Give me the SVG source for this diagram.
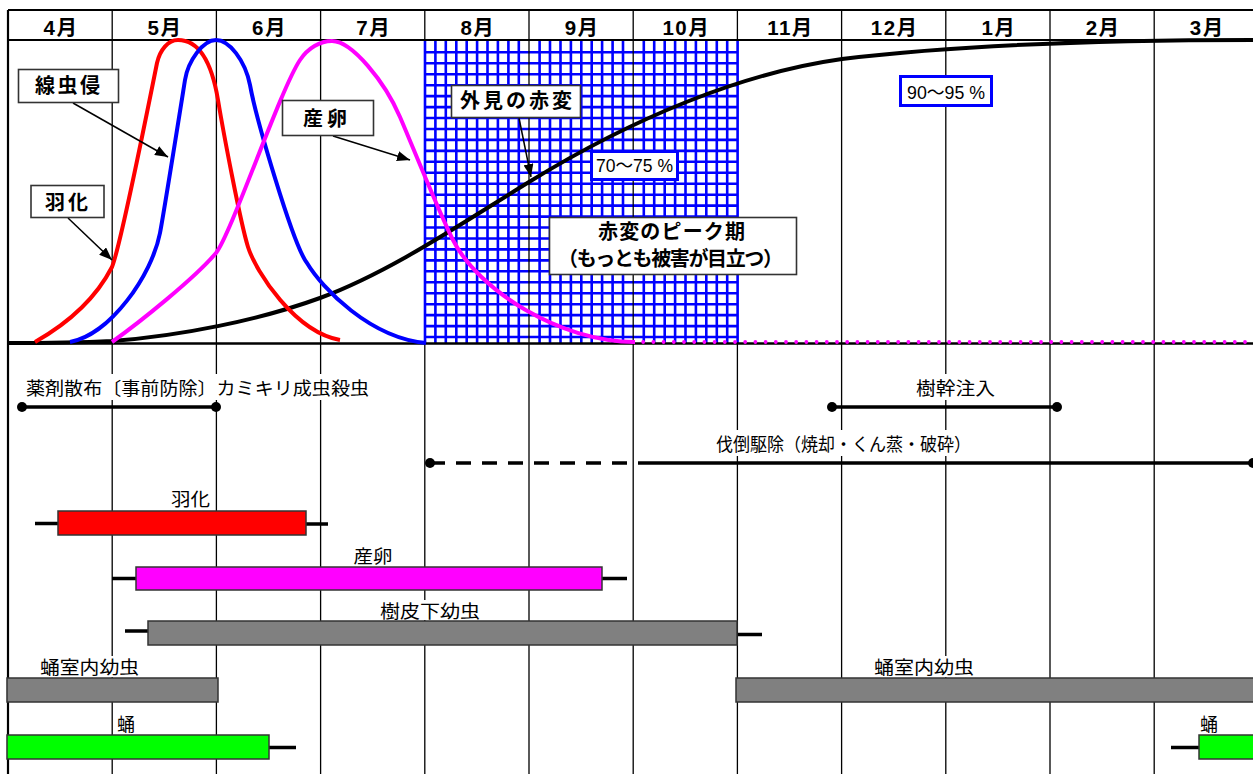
<svg xmlns="http://www.w3.org/2000/svg" width="1253" height="774" viewBox="0 0 1253 774">
<style>
.mline{stroke:#000;stroke-width:1.3;fill:none}
.frame{stroke:#000;stroke-width:2.2;fill:none}
.grid{stroke:#0000ff;stroke-width:2.6;fill:none}
.crv{fill:none;stroke-width:4;stroke-linecap:butt;stroke-linejoin:round}
.hdr{font-family:"Liberation Sans","Noto Sans CJK JP",sans-serif;font-weight:bold;font-size:20.5px;letter-spacing:1.5px;text-anchor:middle;fill:#000}
.cbox{fill:#fff;stroke:#333;stroke-width:1.6}
.pbox{fill:#fff;stroke:#0000ff;stroke-width:3}
.ctxt{font-family:"Noto Sans CJK JP",sans-serif;font-weight:bold;font-size:20px;fill:#000}
.ptxt{font-family:"Liberation Sans","Noto Sans CJK JP",sans-serif;font-size:18px;fill:#000}
.ltxt{font-family:"Noto Sans CJK JP",sans-serif;font-size:18px;fill:#000}
.bg{fill:#fff}
.arr{stroke:#000;stroke-width:1.5;fill:none;marker-end:url(#ah)}
.tl{stroke:#000;stroke-width:3.5;fill:none}
.bar{stroke:#333;stroke-width:1.5}
.wh{stroke:#000;stroke-width:3.5}
</style>
<defs>
<marker id="ah" markerUnits="userSpaceOnUse" markerWidth="14" markerHeight="10" refX="13" refY="5" orient="auto"><path d="M0,0 L13,5 L0,10 z" fill="#000"/></marker>
</defs>
<rect width="1253" height="774" fill="#fff"/>

<g id="month-lines">
<path class="mline" d="M112.2,10V774M216.4,10V774M320.6,10V774M424.8,10V774M529,10V774M633.2,10V774M737.4,10V774M841.6,10V774M945.8,10V774M1050,10V774M1154.2,10V774"/>
</g>

<g id="peak-grid">
<rect x="425" y="40" width="312.6" height="303" fill="#fff"/>
<path class="grid" d="M425,40V343M435.4,40V343M445.8,40V343M456.3,40V343M466.7,40V343M477.1,40V343M487.5,40V343M497.9,40V343M508.4,40V343M518.8,40V343M539.6,40V343M550,40V343M560.5,40V343M570.9,40V343M581.3,40V343M591.7,40V343M602.1,40V343M612.6,40V343M623,40V343M643.8,40V343M654.2,40V343M664.7,40V343M675.1,40V343M685.5,40V343M695.9,40V343M706.3,40V343M716.8,40V343M727.2,40V343M737.6,40V343
M425,52.3H737.6M425,63.3H737.6M425,74.2H737.6M425,85.2H737.6M425,96.1H737.6M425,107.1H737.6M425,118H737.6M425,129H737.6M425,139.9H737.6M425,150.9H737.6M425,161.8H737.6M425,172.8H737.6M425,183.7H737.6M425,194.7H737.6M425,205.6H737.6M425,216.6H737.6M425,227.5H737.6M425,238.5H737.6M425,249.4H737.6M425,260.4H737.6M425,271.3H737.6M425,282.3H737.6M425,293.2H737.6M425,304.2H737.6M425,315.1H737.6M425,326.1H737.6M425,337H737.6"/>
<path class="mline" d="M529,40V343M633.2,40V343"/>
</g>

<g id="frame">
<path class="frame" d="M8,10H1253M8,40H1253M8,10V774"/>
<path d="M8,343.5H1253" stroke="#000" stroke-width="2.6"/>
</g>

<g id="month-header">
<text class="hdr" x="61" y="34.5">4月</text>
<text class="hdr" x="165" y="34.5">5月</text>
<text class="hdr" x="269.5" y="34.5">6月</text>
<text class="hdr" x="373.7" y="34.5">7月</text>
<text class="hdr" x="477.9" y="34.5">8月</text>
<text class="hdr" x="582.1" y="34.5">9月</text>
<text class="hdr" x="686.3" y="34.5">10月</text>
<text class="hdr" x="790.5" y="34.5">11月</text>
<text class="hdr" x="894.7" y="34.5">12月</text>
<text class="hdr" x="998.9" y="34.5">1月</text>
<text class="hdr" x="1103.1" y="34.5">2月</text>
<text class="hdr" x="1207.3" y="34.5">3月</text>
</g>

<g id="curves">
<path id="curve-redness" class="crv" stroke="#000" stroke-width="4.4" d="M8,343 C40,343 80,342.5 112,341 C180,336 260,320 320,298 C390,272 459,225 529,182 C633,118 742,73 842,59 C950,46 1100,40 1253,40"/>
<path id="curve-emergence" class="crv" stroke="#ff0000" d="M35,342 C65,325 95,300 112,267 C120,247 152,88 157,63 C160,50 168,40 178,40 C194,40 210,52 218,100 C223,130 240,221 248,247 C256,272 295,332 340,340"/>
<path id="curve-nematode" class="crv" stroke="#0000ff" d="M70,342 C110,335 152,275 160,233 C164,212 181,105 185,80 C188,61 203,40 216,40 C229,40 245,60 250,85 C256,118 293,245 307,263 C322,288 370,338 426,343"/>
<path id="curve-oviposition" class="crv" stroke="#ff00ff" d="M112,342 C140,322 195,278 216,253 C232,232 280,90 300,60 C308,48 320,41 332,41 C352,41 385,82 400,117 C410,140 440,215 453,240 C478,290 560,342 635,342"/>
<path d="M633,342H1253" stroke="#ff00ff" stroke-width="3.8" stroke-linecap="round" stroke-dasharray="0 10.2" fill="none"/>
</g>

<g id="connectors">
<path class="arr" d="M73,103 L168,157"/>
<path class="arr" d="M68,218 L112,260"/>
<path class="arr" d="M333,136 L410,160"/>
<path class="arr" d="M519,118 L531,177"/>
</g>

<g id="label-nematode">
<rect class="cbox" x="18.5" y="69.5" width="100" height="33"/>
<text class="ctxt" x="35" y="93" textLength="65" lengthAdjust="spacing">線虫侵</text>
</g>
<g id="label-emergence">
<rect class="cbox" x="31" y="185.5" width="73" height="32"/>
<text class="ctxt" x="45" y="210" textLength="43" lengthAdjust="spacing">羽化</text>
</g>
<g id="label-oviposition">
<rect class="cbox" x="282.5" y="100.5" width="91" height="35"/>
<text class="ctxt" x="303" y="126" textLength="44" lengthAdjust="spacing">産卵</text>
</g>
<g id="label-redness">
<rect class="cbox" x="451.5" y="85.5" width="129" height="32"/>
<text class="ctxt" x="460" y="108" textLength="112" lengthAdjust="spacing">外見の赤変</text>
</g>
<g id="label-7075">
<rect class="pbox" x="591.5" y="151.5" width="86" height="28"/>
<text class="ptxt" x="596" y="172" textLength="77" lengthAdjust="spacingAndGlyphs">70～75 %</text>
</g>
<g id="label-peak">
<rect class="cbox" x="549.5" y="217.5" width="247" height="57"/>
<text class="ctxt" x="598" y="239" font-size="19" textLength="147" lengthAdjust="spacing">赤変のピーク期</text>
<text class="ctxt" x="558" y="266" font-size="19" textLength="225" lengthAdjust="spacing">（もっとも被害が目立つ）</text>
</g>
<g id="label-9095">
<rect class="pbox" x="900.5" y="76.5" width="91" height="29"/>
<text class="ptxt" x="907" y="99" textLength="78" lengthAdjust="spacingAndGlyphs">90～95 %</text>
</g>

<g id="label-backgrounds">
<rect class="bg" x="22" y="374" width="350" height="26"/>
<rect class="bg" x="912" y="374" width="87" height="26"/>
<rect class="bg" x="712" y="430" width="263" height="26"/>
<rect class="bg" x="168" y="488" width="45" height="22"/>
<rect class="bg" x="350" y="544" width="46" height="22"/>
<rect class="bg" x="376" y="600" width="107" height="20"/>
<rect class="bg" x="36" y="656" width="106" height="21"/>
<rect class="bg" x="871" y="656" width="107" height="21"/>
<rect class="bg" x="114" y="713" width="24" height="21"/>
<rect class="bg" x="1197" y="713" width="24" height="21"/>
</g>

<g id="spray">
<text class="ltxt" x="26" y="395" textLength="343" lengthAdjust="spacingAndGlyphs">薬剤散布〔事前防除〕カミキリ成虫殺虫</text>
<path class="tl" d="M22,407H216"/>
<circle cx="22" cy="407" r="5"/><circle cx="216" cy="407" r="5"/>
</g>
<g id="injection">
<text class="ltxt" x="916" y="395" textLength="79" lengthAdjust="spacingAndGlyphs">樹幹注入</text>
<path class="tl" d="M832,407H1057"/>
<circle cx="832" cy="407" r="5"/><circle cx="1057" cy="407" r="5"/>
</g>
<g id="felling">
<text class="ltxt" x="716" y="451" textLength="255" lengthAdjust="spacingAndGlyphs">伐倒駆除（焼却・くん蒸・破砕）</text>
<path class="tl" d="M430,463H638" stroke-dasharray="15 11"/>
<path class="tl" d="M638,463H1253"/>
<circle cx="430" cy="463" r="5"/><circle cx="1253" cy="463" r="5"/>
</g>

<g id="bar-emergence">
<text class="ltxt" x="171" y="506" textLength="39" lengthAdjust="spacingAndGlyphs">羽化</text>
<path class="wh" d="M35,523.5H58M306,524H328"/>
<rect class="bar" x="58" y="511" width="248" height="24" fill="#ff0000"/>
</g>
<g id="bar-oviposition">
<text class="ltxt" x="353.5" y="563" textLength="39" lengthAdjust="spacingAndGlyphs">産卵</text>
<path class="wh" d="M112,578.5H136M602,578.5H627"/>
<rect class="bar" x="136" y="567" width="466" height="23" fill="#ff00ff"/>
</g>
<g id="bar-larva-bark">
<text class="ltxt" x="380" y="618" textLength="100" lengthAdjust="spacingAndGlyphs">樹皮下幼虫</text>
<path class="wh" d="M125,631H148M737,634.5H762"/>
<rect class="bar" x="148" y="621" width="589" height="24" fill="#808080"/>
</g>
<g id="bar-larva-chamber-1">
<text class="ltxt" x="40" y="674" textLength="99" lengthAdjust="spacingAndGlyphs">蛹室内幼虫</text>
<rect class="bar" x="7" y="678" width="211" height="24" fill="#808080"/>
</g>
<g id="bar-larva-chamber-2">
<text class="ltxt" x="874" y="674" textLength="100" lengthAdjust="spacingAndGlyphs">蛹室内幼虫</text>
<rect class="bar" x="736" y="678" width="530" height="24" fill="#808080"/>
</g>
<g id="bar-pupa-1">
<text class="ltxt" x="117" y="731" textLength="18" lengthAdjust="spacingAndGlyphs">蛹</text>
<path class="wh" d="M269,747.5H296"/>
<rect class="bar" x="7" y="735" width="262" height="24" fill="#00ff00"/>
</g>
<g id="bar-pupa-2">
<text class="ltxt" x="1200" y="731" textLength="18" lengthAdjust="spacingAndGlyphs">蛹</text>
<path class="wh" d="M1171,747.5H1199"/>
<rect class="bar" x="1199" y="735" width="70" height="24" fill="#00ff00"/>
</g>
</svg>
